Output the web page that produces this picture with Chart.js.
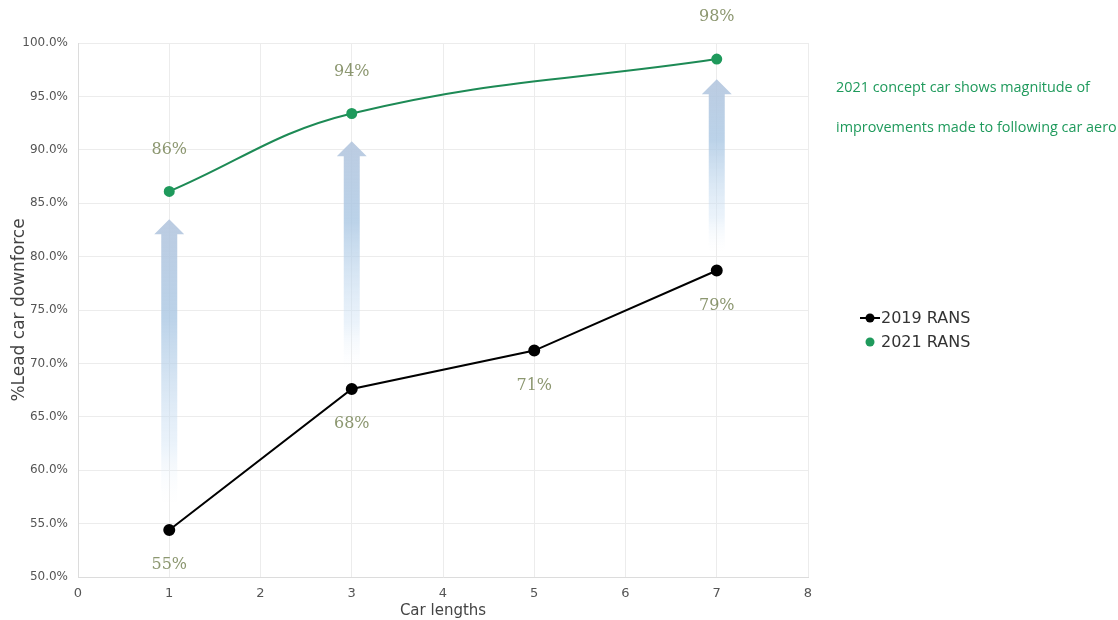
<!DOCTYPE html>
<html lang="en">
  <head>
    <meta charset="UTF-8" />
    <title>Lead car downforce</title>
    <script src="https://cdn.jsdelivr.net/npm/chart.js"></script>
    <style>
      html, body { margin: 0; padding: 0; background: #fff; }
      #wrap { width: 1118px; height: 620px; }
    </style>
  </head>
  <body>
    <div id="wrap"><canvas id="chart" width="1118" height="620"></canvas></div>
    <script>
      // data
      const carLengths2019 = [1, 3, 5, 7];
      const rans2019 = [54.4, 67.6, 71.2, 78.7];
      const labels2019 = ["55%", "68%", "71%", "79%"];

      const carLengths2021 = [1, 3, 7];
      const rans2021 = [86.1, 93.4, 98.5];
      const labels2021 = ["86%", "94%", "98%"];

      // improvement arrows (x, from, to in % units)
      const arrowX = [1, 3, 7];
      const arrowFrom = [57.0, 69.5, 80.5];
      const arrowTo = [83.5, 90.8, 96.6];

      const noteLines = ["2021 concept car shows magnitude of", "improvements made to following car aero"];

      const GREEN = "#1f9a5c";
      const LABEL = "#8c9770";

      const arrows = {
        id: "arrows",
        beforeDatasetsDraw(chart) {
          const { ctx, scales } = chart;
          arrowX.forEach((v, i) => {
            const x = scales.x.getPixelForValue(v);
            const top = scales.y.getPixelForValue(arrowTo[i]);
            const bot = scales.y.getPixelForValue(arrowFrom[i]);
            const g = ctx.createLinearGradient(0, top, 0, bot);
            g.addColorStop(0, "rgba(180,198,222,0.9)");
            g.addColorStop(0.35, "rgba(170,199,227,0.8)");
            g.addColorStop(0.8, "rgba(210,228,245,0.45)");
            g.addColorStop(1, "rgba(240,246,252,0)");
            ctx.save();
            ctx.fillStyle = g;
            ctx.beginPath();
            ctx.moveTo(x, top);
            ctx.lineTo(x + 15, top + 15);
            ctx.lineTo(x + 8, top + 15);
            ctx.lineTo(x + 8, bot);
            ctx.lineTo(x - 8, bot);
            ctx.lineTo(x - 8, top + 15);
            ctx.lineTo(x - 15, top + 15);
            ctx.closePath();
            ctx.fill();
            ctx.restore();
          });
        },
      };

      const extras = {
        id: "extras",
        afterDraw(chart) {
          const { ctx, scales } = chart;
          ctx.save();
          // value labels
          ctx.font = "16px 'DejaVu Serif', 'Liberation Serif', serif";
          ctx.fillStyle = LABEL;
          ctx.textAlign = "center";
          ctx.textBaseline = "middle";
          carLengths2019.forEach((v, i) => {
            ctx.fillText(labels2019[i], scales.x.getPixelForValue(v), scales.y.getPixelForValue(rans2019[i]) + 35);
          });
          carLengths2021.forEach((v, i) => {
            ctx.fillText(labels2021[i], scales.x.getPixelForValue(v), scales.y.getPixelForValue(rans2021[i]) - 42);
          });

          // note
          ctx.font = "14.4px 'Open Sans', sans-serif";
          ctx.fillStyle = GREEN;
          ctx.textAlign = "left";
          ctx.fillText(noteLines[0], 836, 88);
          ctx.fillText(noteLines[1], 836, 128);

          // legend
          const lx = 860, ly = [318, 342];
          ctx.font = "16px 'DejaVu Sans', sans-serif";
          chart.data.datasets.forEach((ds, i) => {
            const y = ly[i];
            if (i === 0) {
              ctx.strokeStyle = ds.borderColor;
              ctx.lineWidth = 2;
              ctx.beginPath();
              ctx.moveTo(lx, y);
              ctx.lineTo(lx + 20, y);
              ctx.stroke();
            }
            ctx.fillStyle = ds.pointBackgroundColor;
            ctx.beginPath();
            ctx.arc(lx + 10, y, 4.5, 0, Math.PI * 2);
            ctx.fill();
            ctx.fillStyle = "#333";
            ctx.fillText(ds.label, lx + 21, y + 1);
          });
          ctx.restore();
        },
      };

      new Chart(document.getElementById("chart"), {
        type: "scatter",
        data: {
          datasets: [
            {
              label: "2019 RANS",
              data: carLengths2019.map((x, i) => ({ x, y: rans2019[i] })),
              showLine: true,
              borderColor: "#000",
              backgroundColor: "#000",
              pointBackgroundColor: "#000",
              pointBorderColor: "#000",
              borderWidth: 2,
              pointRadius: 5,
            },
            {
              label: "2021 RANS",
              data: carLengths2021.map((x, i) => ({ x, y: rans2021[i] })),
              showLine: true,
              tension: 0.4,
              borderColor: "#1d8a55",
              backgroundColor: GREEN,
              pointBackgroundColor: GREEN,
              pointBorderColor: GREEN,
              borderWidth: 2,
              pointRadius: 4.5,
            },
          ],
        },
        options: {
          responsive: false,
          animation: false,
          layout: { padding: { top: 43, right: 310, left: 0, bottom: 0 } },
          plugins: { legend: { display: false }, tooltip: { enabled: false } },
          scales: {
            x: {
              type: "linear",
              min: 0,
              max: 8,
              ticks: { stepSize: 1, color: "#555", font: { size: 13, family: "'DejaVu Sans', sans-serif" }, padding: 9 },
              grid: { color: "#ececec", drawTicks: false },
              border: { color: "#dcdcdc" },
              title: { display: true, text: "Car lengths", color: "#444", font: { size: 15, family: "'DejaVu Sans', sans-serif" }, padding: 0 },
              afterFit(s) { s.height = 43; },
            },
            y: {
              min: 50,
              max: 100,
              ticks: {
                stepSize: 5,
                color: "#555",
                font: { size: 12, family: "'DejaVu Sans', sans-serif" },
                padding: 10,
                callback: (v) => v.toFixed(1) + "%",
              },
              grid: { color: "#ececec", drawTicks: false },
              border: { color: "#dcdcdc" },
              title: { display: true, text: "%Lead car downforce", color: "#444", font: { size: 17, family: "'DejaVu Sans', sans-serif" }, padding: { top: 9, bottom: 0 } },
              afterFit(s) { s.width = 78; },
            },
          },
        },
        plugins: [arrows, extras],
      });
    </script>
  </body>
</html>
